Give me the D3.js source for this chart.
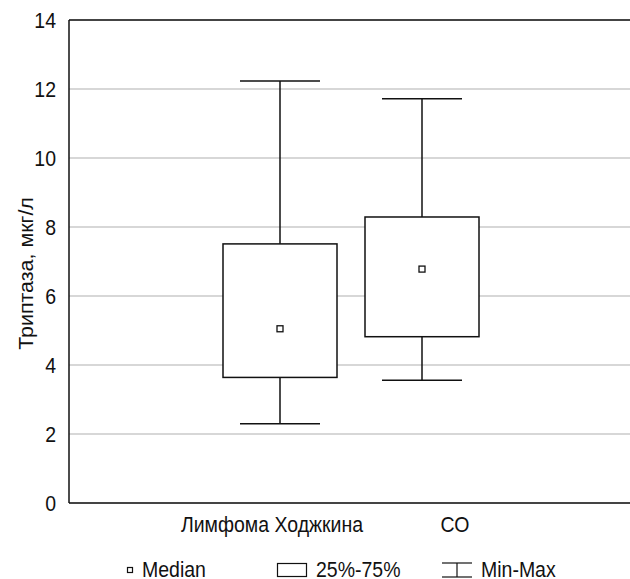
<!DOCTYPE html>
<html>
<head>
<meta charset="utf-8">
<script src="https://cdn.jsdelivr.net/npm/d3@7"></script>
<style>
  body { margin: 0; background: #fff; }
  svg { display: block; }
  text { font-family: "Liberation Sans", Arial, sans-serif; fill: #111; }
</style>
</head>
<body>
<script>
const categories = ["Лимфома Ходжкина", "СО"];
const minValues = [2.3, 3.56];
const q1Values = [3.64, 4.82];
const medianValues = [5.05, 6.78];
const q3Values = [7.51, 8.29];
const maxValues = [12.23, 11.72];
const yTicks = [0, 2, 4, 6, 8, 10, 12, 14];
const legendLabels = ["Median", "25%-75%", "Min-Max"];

const width = 630,
  height = 579,
  margin = { top: 20, right: 0, bottom: 76, left: 69 };

// the picture is a little taller than wide in its lettering
const stretch = 1.1, fs = 19.5;

const svg = d3.select("body")
  .append("svg")
  .attr("width", width)
  .attr("height", height);

const y = d3.scaleLinear()
  .domain([0, 14])
  .range([height - margin.bottom, margin.top]);

const x = d3.scalePoint()
  .domain(categories)
  .range([280, 422]);

const xLabel = d3.scalePoint()
  .domain(categories)
  .range([272, 455]);

const boxW = 114, capW = 80;

const data = categories.map((c, i) => ({
  name: c,
  min: minValues[i],
  q1: q1Values[i],
  med: medianValues[i],
  q3: q3Values[i],
  max: maxValues[i]
}));

// gridlines
svg.append("g")
  .selectAll("line")
  .data(yTicks.filter(t => t > 0 && t < 14))
  .enter()
  .append("line")
  .attr("x1", margin.left)
  .attr("x2", width)
  .attr("y1", d => y(d))
  .attr("y2", d => y(d))
  .attr("stroke", "#b0b0b0")
  .attr("stroke-width", 1.2);

// frame lines
svg.append("line")
  .attr("x1", margin.left).attr("x2", width)
  .attr("y1", y(14)).attr("y2", y(14))
  .attr("stroke", "#444").attr("stroke-width", 2);
svg.append("line")
  .attr("x1", margin.left).attr("x2", width)
  .attr("y1", y(0)).attr("y2", y(0))
  .attr("stroke", "#444").attr("stroke-width", 2);
svg.append("line")
  .attr("x1", margin.left).attr("x2", margin.left)
  .attr("y1", y(14)).attr("y2", y(0))
  .attr("stroke", "#111").attr("stroke-width", 1.5);

// y tick labels
svg.append("g")
  .selectAll("text")
  .data(yTicks)
  .enter()
  .append("text")
  .attr("transform", d => `translate(56, ${y(d) + 7.5}) scale(1, ${stretch})`)
  .attr("text-anchor", "end")
  .attr("font-size", fs)
  .text(d => d);

// y axis title
svg.append("text")
  .attr("transform", `translate(33, ${(y(0) + y(14)) / 2 + 12}) rotate(-90) scale(${stretch}, 1)`)
  .attr("text-anchor", "middle")
  .attr("font-size", fs)
  .text("Триптаза, мкг/л");

// category labels
svg.append("g")
  .selectAll("text")
  .data(categories)
  .enter()
  .append("text")
  .attr("transform", d => `translate(${xLabel(d)}, 532) scale(1, ${stretch})`)
  .attr("text-anchor", "middle")
  .attr("font-size", fs)
  .text(d => d);

// boxes
const box = svg.selectAll("g.box")
  .data(data)
  .enter()
  .append("g")
  .attr("class", "box");

box.append("line")
  .attr("x1", d => x(d.name)).attr("x2", d => x(d.name))
  .attr("y1", d => y(d.max)).attr("y2", d => y(d.q3))
  .attr("stroke", "#111").attr("stroke-width", 1.5);
box.append("line")
  .attr("x1", d => x(d.name)).attr("x2", d => x(d.name))
  .attr("y1", d => y(d.q1)).attr("y2", d => y(d.min))
  .attr("stroke", "#111").attr("stroke-width", 1.5);
box.append("line")
  .attr("x1", d => x(d.name) - capW / 2).attr("x2", d => x(d.name) + capW / 2)
  .attr("y1", d => y(d.max)).attr("y2", d => y(d.max))
  .attr("stroke", "#111").attr("stroke-width", 1.5);
box.append("line")
  .attr("x1", d => x(d.name) - capW / 2).attr("x2", d => x(d.name) + capW / 2)
  .attr("y1", d => y(d.min)).attr("y2", d => y(d.min))
  .attr("stroke", "#111").attr("stroke-width", 1.5);
box.append("rect")
  .attr("x", d => x(d.name) - boxW / 2)
  .attr("y", d => y(d.q3))
  .attr("width", boxW)
  .attr("height", d => y(d.q1) - y(d.q3))
  .attr("fill", "#fff")
  .attr("stroke", "#111")
  .attr("stroke-width", 1.5);
box.append("rect")
  .attr("x", d => x(d.name) - 3)
  .attr("y", d => y(d.med) - 3)
  .attr("width", 6)
  .attr("height", 6)
  .attr("fill", "#fff")
  .attr("stroke", "#111")
  .attr("stroke-width", 1.3);

// legend
const lg = svg.append("g").attr("transform", "translate(0, 570)");
lg.append("rect")
  .attr("x", 127.5).attr("y", -2.5).attr("width", 5).attr("height", 5)
  .attr("fill", "#fff").attr("stroke", "#111").attr("stroke-width", 1.2);
lg.append("rect")
  .attr("x", 277.5).attr("y", -6.5).attr("width", 29).attr("height", 13)
  .attr("fill", "#fff").attr("stroke", "#111").attr("stroke-width", 1.2);
lg.append("line")
  .attr("x1", 442).attr("x2", 472).attr("y1", -7).attr("y2", -7)
  .attr("stroke", "#111").attr("stroke-width", 1.2);
lg.append("line")
  .attr("x1", 457).attr("x2", 457).attr("y1", -7).attr("y2", 7)
  .attr("stroke", "#111").attr("stroke-width", 1.2);
lg.append("line")
  .attr("x1", 442).attr("x2", 472).attr("y1", 7).attr("y2", 7)
  .attr("stroke", "#111").attr("stroke-width", 1.2);
lg.selectAll("text")
  .data(legendLabels)
  .enter()
  .append("text")
  .attr("transform", (d, i) => `translate(${[142, 316, 481][i]}, 7) scale(1, ${stretch})`)
  .attr("font-size", fs)
  .text(d => d);
</script>
</body>
</html>
